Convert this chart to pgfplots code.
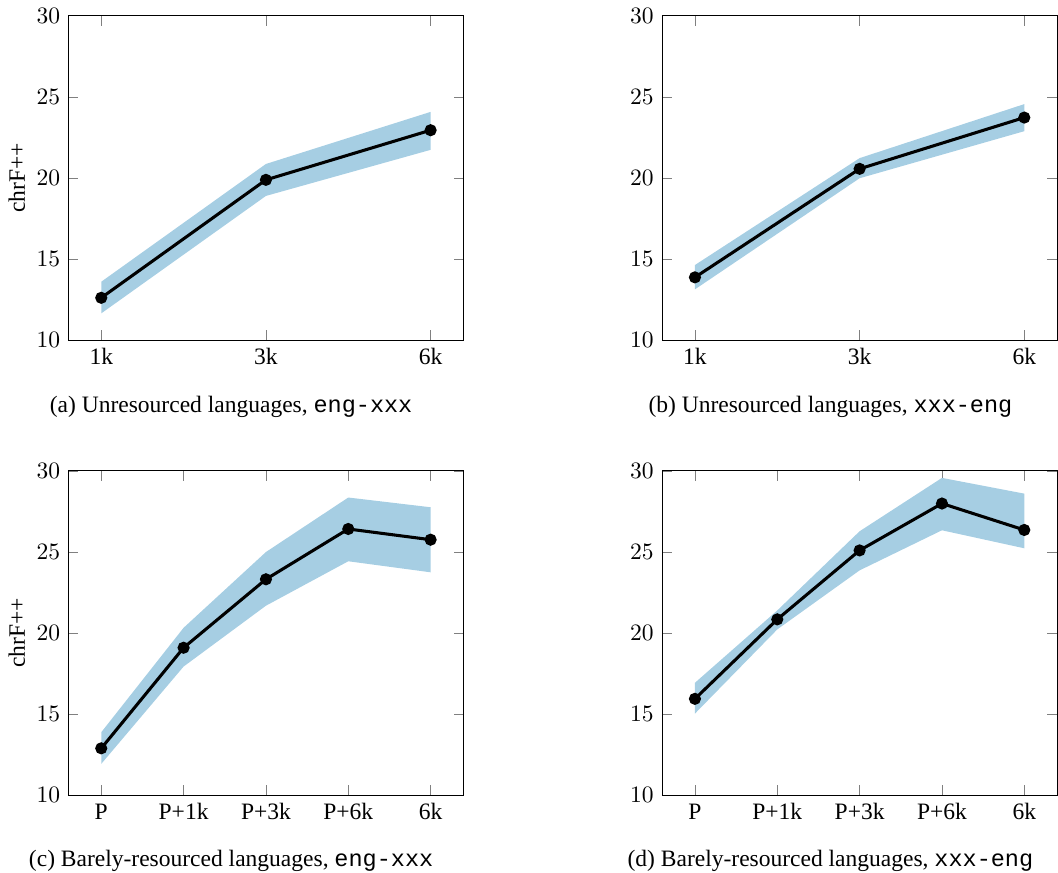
\documentclass[border=0pt]{standalone}
\usepackage{pgfplots}
\pgfplotsset{compat=1.18}
\usepackage{fontspec}
\setmainfont{Liberation Serif}
\setmonofont{Liberation Mono}
\definecolor{bandblue}{HTML}{A6CEE3}

\pgfplotsset{
  panel/.style={
    scale only axis, width=168.1pt, height=138pt, anchor=north west,
    ymin=10, ymax=30, ytick={10,15,20,25,30},
    ylabel shift=-2pt,
  },
  three/.style={xmin=-0.2, xmax=2.2, xtick={0,1,2}, xticklabels={1k,3k,6k}},
  five/.style={xmin=-0.4, xmax=4.4, xtick={0,1,2,3,4}, xticklabels={P,P+1k,P+3k,P+6k,6k}},
  band/.style={fill=bandblue, draw=none},
  mean/.style={black, line width=1.3pt, mark=*, mark size=1.9pt},
}

\begin{document}
\begin{tikzpicture}
\path[use as bounding box] (0,0) rectangle (450pt,371.06pt);

% (a)
\begin{axis}[panel, three, at={(29.06pt,364.38pt)}, ylabel={chrF++}]
\addplot[band] coordinates {(0,13.60) (1,20.86) (2,24.07) (2,21.73) (1,18.89) (0,11.65)};
\addplot[mean] coordinates {(0,12.61) (1,19.88) (2,22.94)};
\end{axis}

% (b)
\begin{axis}[panel, three, at={(281.57pt,364.38pt)}]
\addplot[band] coordinates {(0,14.63) (1,21.22) (2,24.55) (2,22.88) (1,19.98) (0,13.13)};
\addplot[mean] coordinates {(0,13.87) (1,20.56) (2,23.72)};
\end{axis}

% (c)
\begin{axis}[panel, five, at={(29.06pt,170.76pt)}, ylabel={chrF++}]
\addplot[band] coordinates {(0,13.89) (1,20.33) (2,25.00) (3,28.36) (4,27.76) (4,23.75) (3,24.43) (2,21.69) (1,17.94) (0,11.94)};
\addplot[mean] coordinates {(0,12.90) (1,19.10) (2,23.32) (3,26.42) (4,25.76)};
\end{axis}

% (d)
\begin{axis}[panel, five, at={(281.57pt,170.76pt)}]
\addplot[band] coordinates {(0,16.94) (1,21.40) (2,26.28) (3,29.57) (4,28.60) (4,25.23) (3,26.34) (2,23.87) (1,20.23) (0,15.04)};
\addplot[mean] coordinates {(0,15.95) (1,20.85) (2,25.10) (3,27.99) (4,26.36)};
\end{axis}

\node[anchor=base] at (98.3pt,195.7pt) {(a) Unresourced languages, \texttt{eng-xxx}};
\node[anchor=base] at (353.2pt,195.7pt) {(b) Unresourced languages, \texttt{xxx-eng}};
\node[anchor=base] at (98.3pt,2.4pt) {(c) Barely-resourced languages, \texttt{eng-xxx}};
\node[anchor=base] at (353.2pt,2.4pt) {(d) Barely-resourced languages, \texttt{xxx-eng}};
\end{tikzpicture}
\end{document}
